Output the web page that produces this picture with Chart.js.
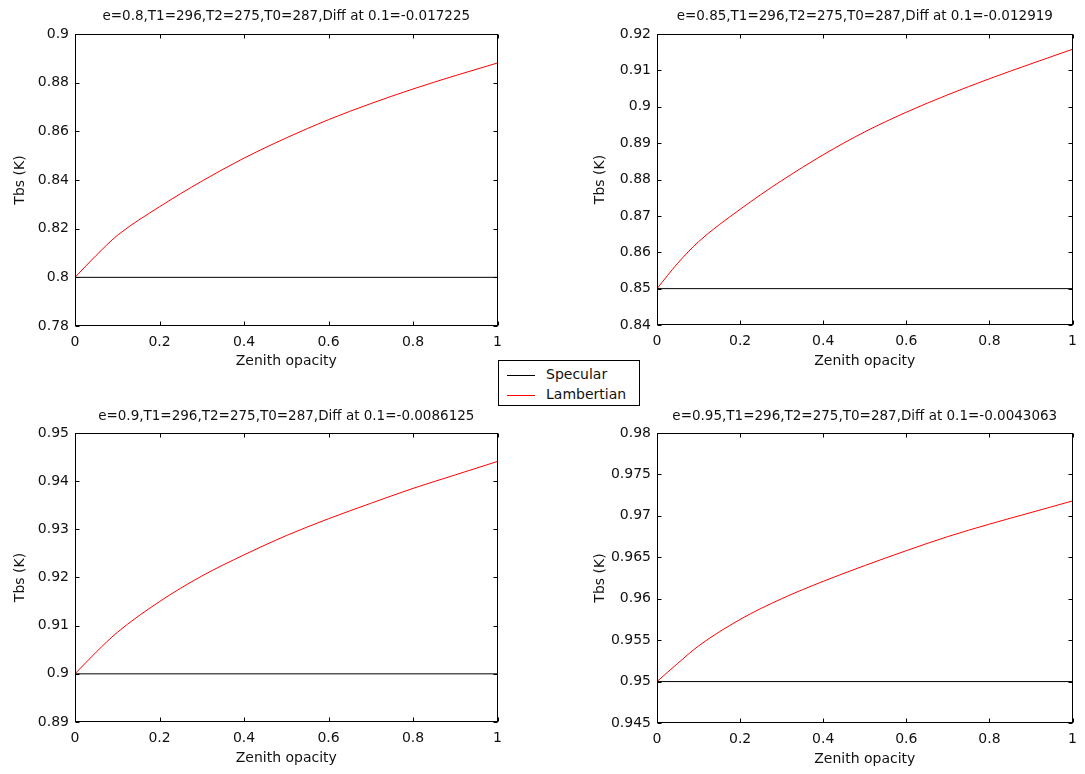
<!DOCTYPE html>
<html>
<head>
<meta charset="utf-8">
<script src="https://cdn.jsdelivr.net/npm/chart.js@4/dist/chart.umd.min.js"></script>
<style>
    body { margin: 0; background: #fff; width: 1085px; height: 774px; position: relative; overflow: hidden; font-family: "DejaVu Sans", sans-serif; }
    canvas { position: absolute; }
    #legend { position: absolute; left: 498px; top: 360px; width: 140px; height: 44px; border: 1px solid #000; background: #fff; font-size: 14px; color: #111; }
    #legend .row { position: absolute; left: 8px; height: 18px; line-height: 18px; white-space: nowrap; }
    #legend .sw { display: inline-block; width: 28px; height: 1px; vertical-align: middle; margin-right: 11px; }
</style>
</head>
<body>
<canvas id="p1" width="510" height="390" style="left:0;top:0"></canvas>
<canvas id="p2" width="505" height="390" style="left:580px;top:0"></canvas>
<canvas id="p3" width="510" height="376" style="left:0;top:398px"></canvas>
<canvas id="p4" width="505" height="376" style="left:580px;top:398px"></canvas>
<div id="legend">
    <div class="row" style="top:4px"><span class="sw" style="background:#000"></span>Specular</div>
    <div class="row" style="top:24px"><span class="sw" style="background:#f00"></span>Lambertian</div>
</div>
<script>
// x values (zenith opacity) shared by all panels
const opacity = [0, 0.05, 0.1, 0.2, 0.3, 0.4, 0.5, 0.6, 0.7, 0.8, 0.9, 1];

// Lambertian Tbs
const lamb080 = [0.800, 0.809, 0.8172, 0.829, 0.8395, 0.849, 0.8573, 0.8648, 0.8714, 0.8774, 0.8829, 0.8881];
const lamb085 = [0.850, 0.857, 0.8629, 0.8718, 0.8797, 0.8868, 0.8931, 0.8985, 0.9033, 0.9077, 0.9118, 0.9158];
const lamb090 = [0.900, 0.9045, 0.9086, 0.915, 0.9203, 0.9247, 0.9287, 0.9322, 0.9354, 0.9385, 0.9413, 0.9441];
const lamb095 = [0.950, 0.9522, 0.9543, 0.9575, 0.960, 0.9621, 0.964, 0.9658, 0.9675, 0.969, 0.9704, 0.9718];

// Specular is flat at the emissivity
const specular = [0.8, 0.85, 0.9, 0.95];

const titles = [
    "e=0.8,T1=296,T2=275,T0=287,Diff at 0.1=-0.017225",
    "e=0.85,T1=296,T2=275,T0=287,Diff at 0.1=-0.012919",
    "e=0.9,T1=296,T2=275,T0=287,Diff at 0.1=-0.0086125",
    "e=0.95,T1=296,T2=275,T0=287,Diff at 0.1=-0.0043063"
];
const yMin = [0.78, 0.84, 0.89, 0.945];
const yMax = [0.9, 0.92, 0.95, 0.98];
const yStep = [0.02, 0.01, 0.01, 0.005];

const FONT = "'DejaVu Sans', sans-serif";
const TEXT = "#111";

// box around the plot + inward ticks like matlab
const framePlugin = {
    id: "frame",
    afterDraw(chart) {
        const { ctx, chartArea: a, scales } = chart;
        const L = Math.round(a.left) + 0.5, R = Math.round(a.right) - 0.5;
        const T = Math.round(a.top) + 0.5, B = Math.round(a.bottom) - 0.5;
        ctx.save();
        ctx.strokeStyle = "#000";
        ctx.lineWidth = 1;
        ctx.strokeRect(L, T, R - L, B - T);
        ctx.beginPath();
        scales.x.ticks.forEach(t => {
            const px = Math.round(scales.x.getPixelForValue(t.value)) + 0.5;
            ctx.moveTo(px, B); ctx.lineTo(px, B - 4);
            ctx.moveTo(px, T); ctx.lineTo(px, T + 4);
        });
        scales.y.ticks.forEach(t => {
            const py = Math.round(scales.y.getPixelForValue(t.value)) + 0.5;
            ctx.moveTo(L, py); ctx.lineTo(L + 4, py);
            ctx.moveTo(R, py); ctx.lineTo(R - 4, py);
        });
        ctx.stroke();
        ctx.restore();
    }
};

function makePanel(id, i, lamb, box) {
    const canvas = document.getElementById(id);
    const W = canvas.width, H = canvas.height;
    const fmt = v => String(+(+v).toFixed(4));
    return new Chart(canvas, {
        type: "line",
        data: {
            datasets: [
                {
                    label: "Specular",
                    data: [{ x: opacity[0], y: specular[i] }, { x: opacity[opacity.length - 1], y: specular[i] }],
                    borderColor: "#000",
                    borderWidth: 1,
                    pointRadius: 0
                },
                {
                    label: "Lambertian",
                    data: opacity.map((x, k) => ({ x: x, y: lamb[k] })),
                    borderColor: "#f00",
                    borderWidth: 1,
                    pointRadius: 0,
                    cubicInterpolationMode: "monotone"
                }
            ]
        },
        options: {
            responsive: false,
            animation: false,
            devicePixelRatio: 1,
            layout: { padding: { left: 0, top: 0, bottom: 0, right: W - box.right } },
            plugins: {
                legend: { display: false },
                tooltip: { enabled: false },
                title: {
                    display: true,
                    text: titles[i],
                    fullSize: false,
                    color: TEXT,
                    font: { family: FONT, size: 13.5, weight: "normal", lineHeight: 1.2 },
                    padding: { top: box.tTop, bottom: box.top - 16.2 - box.tTop }
                }
            },
            scales: {
                x: {
                    type: "linear",
                    min: 0, max: 1,
                    grid: { display: false, drawTicks: false },
                    border: { display: false },
                    ticks: { stepSize: 0.2, color: TEXT, padding: 8, font: { family: FONT, size: 14 }, callback: fmt, maxRotation: 0 },
                    title: { display: true, text: "Zenith opacity", color: TEXT, font: { family: FONT, size: 14 }, padding: { top: 0, bottom: H - box.xTitle - 8.4 } },
                    afterFit: s => { s.height = H - box.bottom; }
                },
                y: {
                    type: "linear",
                    min: yMin[i], max: yMax[i],
                    grid: { display: false, drawTicks: false },
                    border: { display: false },
                    ticks: { stepSize: yStep[i], color: TEXT, padding: 6, font: { family: FONT, size: 14 }, callback: fmt, autoSkip: false },
                    title: { display: true, text: "Tbs (K)", color: TEXT, font: { family: FONT, size: 14 }, padding: { top: 11.5, bottom: 0 } },
                    afterFit: s => { s.width = box.left; }
                }
            }
        },
        plugins: [framePlugin]
    });
}

makePanel("p1", 0, lamb080, { left: 75, right: 499, top: 34, bottom: 326, tTop: 8.6, xTitle: 361 });
makePanel("p2", 1, lamb085, { left: 77, right: 500, top: 34, bottom: 325, tTop: 8.6, xTitle: 361 });
makePanel("p3", 2, lamb090, { left: 75, right: 499, top: 35, bottom: 324, tTop: 10.1, xTitle: 360 });
makePanel("p4", 3, lamb095, { left: 77, right: 501, top: 35, bottom: 325, tTop: 10.1, xTitle: 361 });
</script>
</body>
</html>
